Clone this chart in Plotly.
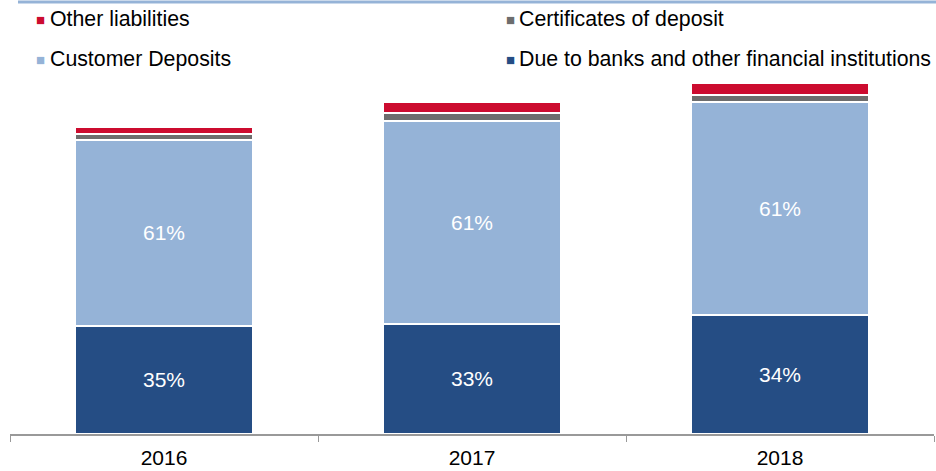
import plotly.graph_objects as go

# Liability mix by year (amounts, stacked bottom to top)
years = ["2016", "2017", "2018"]
due_to_banks = [109.0, 111.0, 120.0]
customer_deposits = [187.0, 204.0, 214.0]
certificates_of_deposit = [6.2, 7.8, 6.8]
other_liabilities = [6.3, 11.0, 11.7]

series = [
    ("Due to banks and other financial institutions", due_to_banks, "#254d84", True),
    ("Customer Deposits", customer_deposits, "#95b3d7", True),
    ("Certificates of deposit", certificates_of_deposit, "#6d6d6d", False),
    ("Other liabilities", other_liabilities, "#cc0c2f", False),
]

totals = [sum(v) for v in zip(due_to_banks, customer_deposits,
                              certificates_of_deposit, other_liabilities)]

FONT = "Liberation Sans, Arial, sans-serif"
W, H = 936, 471
ML, MR, MT, MB = 10, 2, 80, 35
PW, PH = W - ML - MR, H - MT - MB

fig = go.Figure()
for name, vals, color, labelled in series:
    text = [f"{v / t * 100:.0f}%" for v, t in zip(vals, totals)] if labelled else None
    fig.add_trace(go.Bar(
        x=years, y=vals, name=name,
        marker=dict(color=color, line=dict(color="white", width=2)),
        text=text, textposition="inside" if labelled else "none",
        insidetextanchor="middle",
        textfont=dict(color="white", size=21, family=FONT),
        hoverinfo="skip", showlegend=False,
    ))


def px_x(px):
    return (px - ML) / PW


def px_y(py):
    return (H - MB - py) / PH


# Legend drawn as two columns of square swatches and labels
legend_items = [
    ("Other liabilities", "#cc0c2f", 40.5, 19),
    ("Certificates of deposit", "#6d6d6d", 510, 19),
    ("Customer Deposits", "#95b3d7", 40.5, 59),
    ("Due to banks and other financial institutions", "#254d84", 510, 59),
]
annotations = []
for name, color, mx, my in legend_items:
    annotations.append(dict(
        x=px_x(mx), y=px_y(my), xref="paper", yref="paper",
        text="■", showarrow=False, xanchor="center", yanchor="middle",
        font=dict(color=color, size=15, family=FONT),
    ))
    annotations.append(dict(
        x=px_x(mx + 7), y=px_y(my), xref="paper", yref="paper",
        text=name, showarrow=False, xanchor="left", yanchor="middle",
        font=dict(color="black", size=21.3, family=FONT),
    ))

fig.update_layout(
    width=W, height=H,
    margin=dict(l=ML, r=MR, t=MT, b=MB),
    barmode="stack", bargap=0.425,
    paper_bgcolor="white", plot_bgcolor="white",
    font=dict(family=FONT, size=21, color="black"),
    showlegend=False,
    annotations=annotations,
    shapes=[dict(
        type="rect", xref="paper", yref="paper",
        x0=px_x(18), x1=px_x(W), y0=px_y(3), y1=px_y(0),
        fillcolor="#95b3d7", line=dict(width=0), layer="above",
    )],
    xaxis=dict(
        type="category", tickson="boundaries", ticks="outside", ticklen=6,
        tickcolor="#999999", showline=True, linecolor="#999999", linewidth=1.5,
        showgrid=False, tickfont=dict(size=21, color="black", family=FONT),
        ticklabelstandoff=4,
    ),
    yaxis=dict(range=[0, PH], visible=False, showgrid=False, fixedrange=True),
)

fig.write_html("out.html")
